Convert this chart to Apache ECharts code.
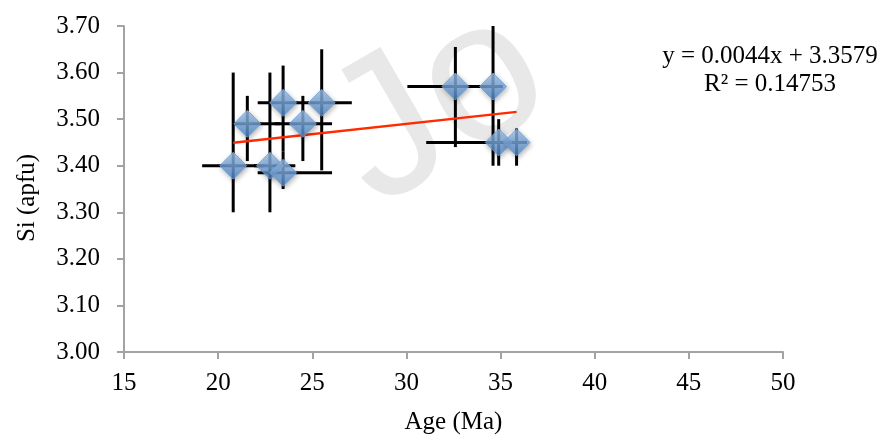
<!DOCTYPE html>
<html><head><meta charset="utf-8">
<script src="https://cdn.jsdelivr.net/npm/echarts@6/dist/echarts.min.js"></script>
<style>html,body{margin:0;padding:0;background:#fff}#c{width:895px;height:440px}</style>
</head><body><div id="c"></div>
<script>
// Data
const ageMa   = [20.8, 21.55, 22.75, 23.45, 23.45, 24.5, 25.5, 32.6, 34.6, 34.9, 35.85];
const siApfu  = [3.40, 3.49, 3.40, 3.385, 3.535, 3.49, 3.535, 3.57, 3.57, 3.45, 3.45];
const ageLow  = [19.15, 20.8, 21.9, 22.1, 22.1, 23.0, 24.85, 30.05, 34.1, 31.05, 35.3];
const ageHigh = [22.45, 23.3, 24.1, 26.05, 24.85, 26.05, 27.1, 35.1, 35.1, 35.9, 36.4];
const siLow   = [3.30, 3.41, 3.30, 3.35, 3.43, 3.41, 3.39, 3.44, 3.40, 3.40, 3.40];
const siHigh  = [3.60, 3.55, 3.60, 3.43, 3.615, 3.55, 3.65, 3.655, 3.70, 3.50, 3.48];
const trendAge = [20.8, 35.85];
const trendSi  = [3.4494, 3.5156];
const xTicks = {min: 15, max: 50, step: 5};
const yTicks = {min: 3.0, max: 3.7, step: 0.1};
const eqLines = ['y = 0.0044x + 3.3579', 'R² = 0.14753'];
const watermark = 'Jo';

const FONT = '"Liberation Serif", "Times New Roman", serif';
const AXIS_COLOR = '#a3a3a3';
const chart = echarts.init(document.getElementById('c'), null, {renderer: 'canvas'});

const errData = ageMa.map((x, i) => [x, siApfu[i], ageLow[i], ageHigh[i], siLow[i], siHigh[i]]);
const ptData = ageMa.map((x, i) => [x, siApfu[i]]);
const trendData = trendAge.map((x, i) => [x, trendSi[i]]);

const option = {
  animation: false,
  backgroundColor: '#fff',
  grid: {left: 124, right: 112, top: 26, bottom: 88},
  xAxis: {
    type: 'value', min: xTicks.min, max: xTicks.max, interval: xTicks.step,
    name: 'Age (Ma)', nameLocation: 'middle', nameGap: 58,
    nameTextStyle: {fontFamily: FONT, fontSize: 25, color: '#000'},
    axisLine: {show: true, lineStyle: {color: AXIS_COLOR, width: 2}},
    axisTick: {show: true, length: 7, lineStyle: {color: AXIS_COLOR, width: 2}},
    axisLabel: {fontFamily: FONT, fontSize: 25, color: '#000', margin: 19},
    splitLine: {show: false}
  },
  yAxis: {
    type: 'value', min: yTicks.min, max: yTicks.max, interval: yTicks.step,
    name: 'Si (apfu)', nameLocation: 'middle', nameGap: 84, nameRotate: 90,
    nameTextStyle: {fontFamily: FONT, fontSize: 25, color: '#000', padding: [0, 18, 0, 0]},
    axisLine: {show: true, lineStyle: {color: AXIS_COLOR, width: 2}},
    axisTick: {show: true, length: 7, lineStyle: {color: AXIS_COLOR, width: 2}},
    axisLabel: {fontFamily: FONT, fontSize: 25, color: '#000', margin: 24,
      formatter: v => v.toFixed(2)},
    splitLine: {show: false}
  },
  series: [
    {
      type: 'custom', silent: true, z: 1,
      data: errData,
      encode: {x: [0, 2, 3], y: [1, 4, 5]},
      renderItem: (params, api) => {
        const x = api.value(0), y = api.value(1);
        const a = api.coord([api.value(2), y]);
        const b = api.coord([api.value(3), y]);
        const c = api.coord([x, api.value(4)]);
        const d = api.coord([x, api.value(5)]);
        const st = {stroke: '#000', lineWidth: 3};
        return {type: 'group', children: [
          {type: 'line', shape: {x1: a[0], y1: a[1], x2: b[0], y2: b[1]}, style: st},
          {type: 'line', shape: {x1: c[0], y1: c[1], x2: d[0], y2: d[1]}, style: st}
        ]};
      }
    },
    {
      type: 'line', data: trendData, symbol: 'none', z: 2, silent: true,
      lineStyle: {color: '#ff2a00', width: 2.5}
    },
    {
      type: 'scatter', data: ptData, symbol: 'diamond', symbolSize: 27, z: 3,
      itemStyle: {
        color: new echarts.graphic.LinearGradient(0, 0, 0, 1, [
          {offset: 0, color: '#a4c8f0'},
          {offset: 1, color: '#4d86c6'}
        ]),
        borderColor: '#6e9fd6', borderWidth: 1,
        shadowBlur: 5, shadowColor: 'rgba(0,0,0,0.35)', shadowOffsetX: 1, shadowOffsetY: 2
      }
    }
  ],
  graphic: [
    {
      type: 'text', x: 348, y: 161, rotation: Math.PI / 6, z: -10, silent: true,
      style: {text: watermark, fontFamily: '"Liberation Sans", Arial, sans-serif', fontSize: 200,
        fill: '#e8e8e8', align: 'left', verticalAlign: 'middle', textAlign: 'left', textVerticalAlign: 'middle'}
    }
  ].concat(eqLines.map((t, i) => ({
    type: 'text', x: 770, y: 56 + i * 28, z: 10,
    style: {text: t, fontFamily: FONT, fontSize: 25, fill: '#000',
      align: 'center', verticalAlign: 'middle', textAlign: 'center', textVerticalAlign: 'middle'}
  })))
};
chart.setOption(option);
</script>
</body></html>
